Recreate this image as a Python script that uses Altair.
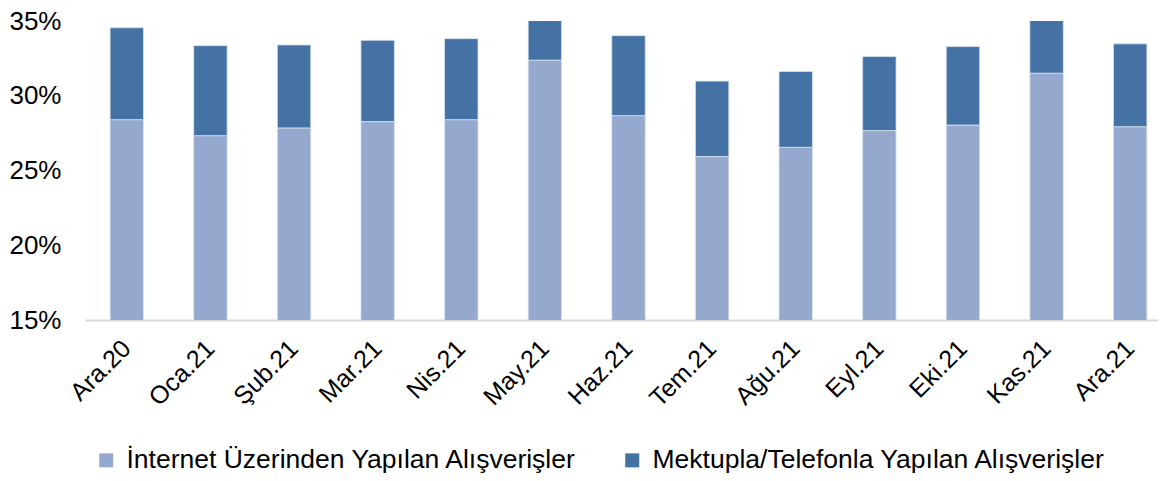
import altair as alt
import pandas as pd

months = ["Ara.20", "Oca.21", "Şub.21", "Mar.21", "Nis.21", "May.21", "Haz.21",
          "Tem.21", "Ağu.21", "Eyl.21", "Eki.21", "Kas.21", "Ara.21"]
internet = [28.4, 27.33, 27.85, 28.27, 28.4, 32.38, 28.67, 25.93, 26.55, 27.67, 28.04, 31.51, 27.93]
mail = [6.15, 6.02, 5.55, 5.44, 5.42, 5.0, 5.35, 5.05, 5.07, 4.95, 5.25, 5.2, 5.54]
series = ["İnternet Üzerinden Yapılan Alışverişler", "Mektupla/Telefonla Yapılan Alışverişler"]
colors = ["#95A9CF", "#4472A4"]

rows = []
for i, m in enumerate(months):
    rows.append({"month": m, "series": series[0], "value": internet[i], "order": 0})
    rows.append({"month": m, "series": series[1], "value": mail[i], "order": 1})
df = pd.DataFrame(rows)

FONT = "Liberation Sans"

chart = alt.Chart(df).mark_bar(clip=True, stroke="#dbe3ef", strokeWidth=0.8).encode(
    x=alt.X("month:N", sort=months, title=None,
            scale=alt.Scale(range=[0, 1087], paddingInner=0.6, paddingOuter=0.3),
            axis=alt.Axis(labelAngle=-45, labelAlign="right", labelBaseline="middle",
                          labelPadding=24, ticks=False, domainColor="#d9d9d9",
                          domainWidth=2, labelFontSize=25, labelColor="#000000",
                          labelFont=FONT)),
    y=alt.Y("value:Q", stack="zero", title=None,
            scale=alt.Scale(domain=[15, 35], nice=False, zero=False),
            axis=alt.Axis(values=[15, 20, 25, 30, 35], labelExpr="datum.value + '%'",
                          grid=False, domain=False, ticks=False, labelPadding=24,
                          labelFontSize=26, labelColor="#000000", labelFont=FONT)),
    color=alt.Color("series:N", sort=series,
                    scale=alt.Scale(domain=series, range=colors),
                    legend=alt.Legend(title=None, orient="none", direction="horizontal",
                                      legendX=8, legendY=426, symbolType="square",
                                      symbolSize=196, symbolStrokeWidth=0,
                                      labelFontSize=26.5, labelFont=FONT, labelColor="#000000",
                                      labelOffset=7, columnPadding=42, padding=0,
                                      labelLimit=700)),
    order=alt.Order("order:Q", sort="ascending"),
).properties(
    width=1073, height=299,
    autosize=alt.AutoSizeParams(type="none"),
    padding={"left": 77, "top": 13, "right": 0, "bottom": 153},
).configure_view(stroke=None)

chart.save("out.html", embed_options={"renderer": "svg", "actions": False})
